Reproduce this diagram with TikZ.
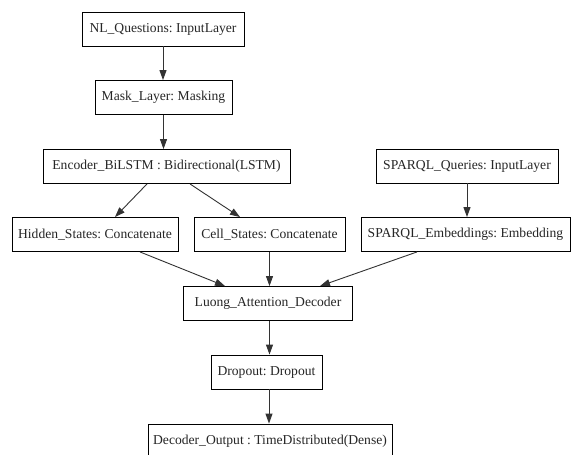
\documentclass[tikz,border=0pt]{standalone}
\usepackage{fontspec}
\setmainfont{Liberation Serif}
\usetikzlibrary{arrows.meta}
\frenchspacing
\begin{document}
\begin{tikzpicture}[x=1pt,y=-1pt,
  box/.style={draw=black,line width=0.9pt,inner sep=0pt,minimum height=34pt,font=\fontsize{13.6}{15}\selectfont,text=black!85},
  arr/.style={draw=black!80,line width=0.9pt,-{Triangle[length=10pt,width=7pt]}}]
\useasboundingbox (0,0) rectangle (571,455);
\clip (0,0) rectangle (571,455);
\fill[white] (0,0) rectangle (571,455);
\node[box,minimum width=162pt] (nl) at (163,29) {NL\_Questions: InputLayer};
\node[box,minimum width=137pt] (mask) at (163.5,97.5) {Mask\_Layer: Masking};
\node[box,minimum width=247pt] (enc) at (166.5,166.5) {Encoder\_BiLSTM : Bidirectional(LSTM)};
\node[box,minimum width=182pt] (sq) at (467,166) {SPARQL\_Queries: InputLayer};
\node[box,minimum width=166pt] (hid) at (95,234.5) {Hidden\_States: Concatenate};
\node[box,minimum width=151pt] (cell) at (269.5,234.5) {Cell\_States: Concatenate};
\node[box,minimum width=209pt] (se) at (465.5,234.5) {SPARQL\_Embeddings: Embedding};
\node[box,minimum width=169pt] (lu) at (268,303.5) {Luong\_Attention\_Decoder};
\node[box,minimum width=111pt] (dr) at (266.5,372) {Dropout: Dropout};
\node[box,minimum width=244pt] (dec) at (270,441) {Decoder\_Output : TimeDistributed(Dense)};
\draw[arr] (nl.south) -- (nl.south |- mask.north);
\draw[arr] (mask.south) -- (mask.south |- enc.north);
\draw[arr] ([xshift=-19.5pt]enc.south) -- ([xshift=20pt]hid.north);
\draw[arr] ([xshift=23.5pt]enc.south) -- ([xshift=-29.5pt]cell.north);
\draw[arr] (sq.south) -- (sq.south |- se.north);
\draw[arr] ([xshift=45pt]hid.south) -- ([xshift=-43pt]lu.north);
\draw[arr] (cell.south) -- (cell.south |- lu.north);
\draw[arr] ([xshift=-48.5pt]se.south) -- ([xshift=52pt]lu.north);
\draw[arr] ([xshift=1.5pt]lu.south) -- ([xshift=1.5pt]lu.south |- dr.north);
\draw[arr] ([xshift=2.5pt]dr.south) -- ([xshift=2.5pt]dr.south |- dec.north);
\end{tikzpicture}
\end{document}
